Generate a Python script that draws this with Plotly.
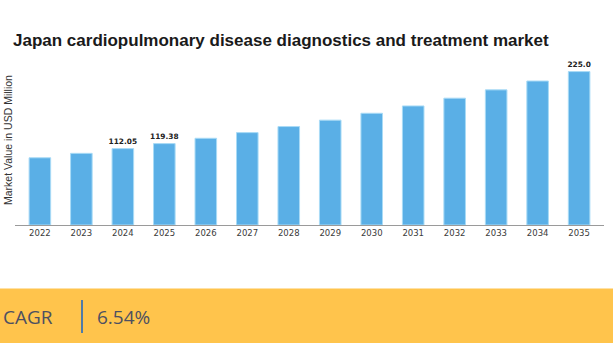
import plotly.graph_objects as go

years = ["2022", "2023", "2024", "2025", "2026", "2027", "2028",
         "2029", "2030", "2031", "2032", "2033", "2034", "2035"]
values = [98.6, 105.1, 112.05, 119.38, 127.2, 135.5, 144.4,
          153.8, 163.9, 174.6, 186.0, 198.2, 211.2, 225.0]
value_labels = ["", "", "112.05", "119.38", "", "", "",
                "", "", "", "", "", "", "225.0"]

title_text = "Japan cardiopulmonary disease diagnostics and treatment market"
y_title = "Market Value in USD Million"
cagr_label = "CAGR"
cagr_value = "6.54%"

W, H = 613, 343
ML, MR, MT, MB = 15, 9, 60, 118
plot_h = H - MT - MB
plot_w = W - ML - MR


def px_x(px):
    return (px - ML) / plot_w


def px_y(py):
    return (H - MB - py) / plot_h


fig = go.Figure()
fig.add_trace(go.Bar(
    x=years,
    y=values,
    width=0.52,
    marker=dict(color="#5AAFE6", line=dict(color="#A9DBF6", width=1)),
    text=value_labels,
    textposition="outside",
    constraintext="none",
    textfont=dict(family="DejaVu Sans", size=7.4, color="#222222", weight="bold"),
    cliponaxis=False,
    hoverinfo="skip",
))

fig.update_layout(
    width=W, height=H,
    margin=dict(l=ML, r=MR, t=MT, b=MB, pad=0),
    paper_bgcolor="white",
    plot_bgcolor="white",
    showlegend=False,
    bargap=0.48,
    title=dict(
        text=title_text,
        x=13 / W, xanchor="left", xref="container",
        y=1 - 40 / H, yanchor="middle", yref="container",
        font=dict(family="Liberation Sans, Arial", size=17, color="#1a1a1a", weight="bold"),
    ),
    xaxis=dict(
        type="category",
        range=[-0.6, 13.6],
        showline=True, linecolor="#9a9a9a", linewidth=1,
        showgrid=False, zeroline=False,
        ticks="", ticklabelstandoff=0,
        tickfont=dict(family="DejaVu Sans", size=8.5, color="#3a3a3a"),
    ),
    yaxis=dict(
        range=[0, 242],
        showticklabels=False, showgrid=False, zeroline=False, showline=False,
        ticks="",
    ),
)

# rotated axis caption on the left edge
fig.add_annotation(
    text=y_title, textangle=-90,
    xref="paper", yref="paper",
    x=px_x(8), y=px_y(140), xanchor="center", yanchor="middle",
    showarrow=False,
    font=dict(family="Liberation Sans, Arial", size=10.5, color="#333333"),
)

# CAGR footer band
fig.add_shape(
    type="rect", xref="paper", yref="paper",
    x0=px_x(0), x1=px_x(W), y0=px_y(288.5), y1=px_y(H + 2),
    fillcolor="#FFC44C", line=dict(width=0), layer="below",
)
fig.add_shape(
    type="line", xref="paper", yref="paper",
    x0=px_x(82), x1=px_x(82), y0=px_y(300), y1=px_y(333),
    line=dict(color="#1663c7", width=1.5),
)
fig.add_annotation(
    text=cagr_label, xref="paper", yref="paper",
    x=px_x(1), y=px_y(317), xanchor="left", yanchor="middle",
    showarrow=False,
    font=dict(family="Open Sans", size=19, color="#4d5061"),
)
fig.add_annotation(
    text=cagr_value, xref="paper", yref="paper",
    x=px_x(95), y=px_y(317), xanchor="left", yanchor="middle",
    showarrow=False,
    font=dict(family="Open Sans", size=19, color="#4d5061"),
)

fig.write_html("out.html")
